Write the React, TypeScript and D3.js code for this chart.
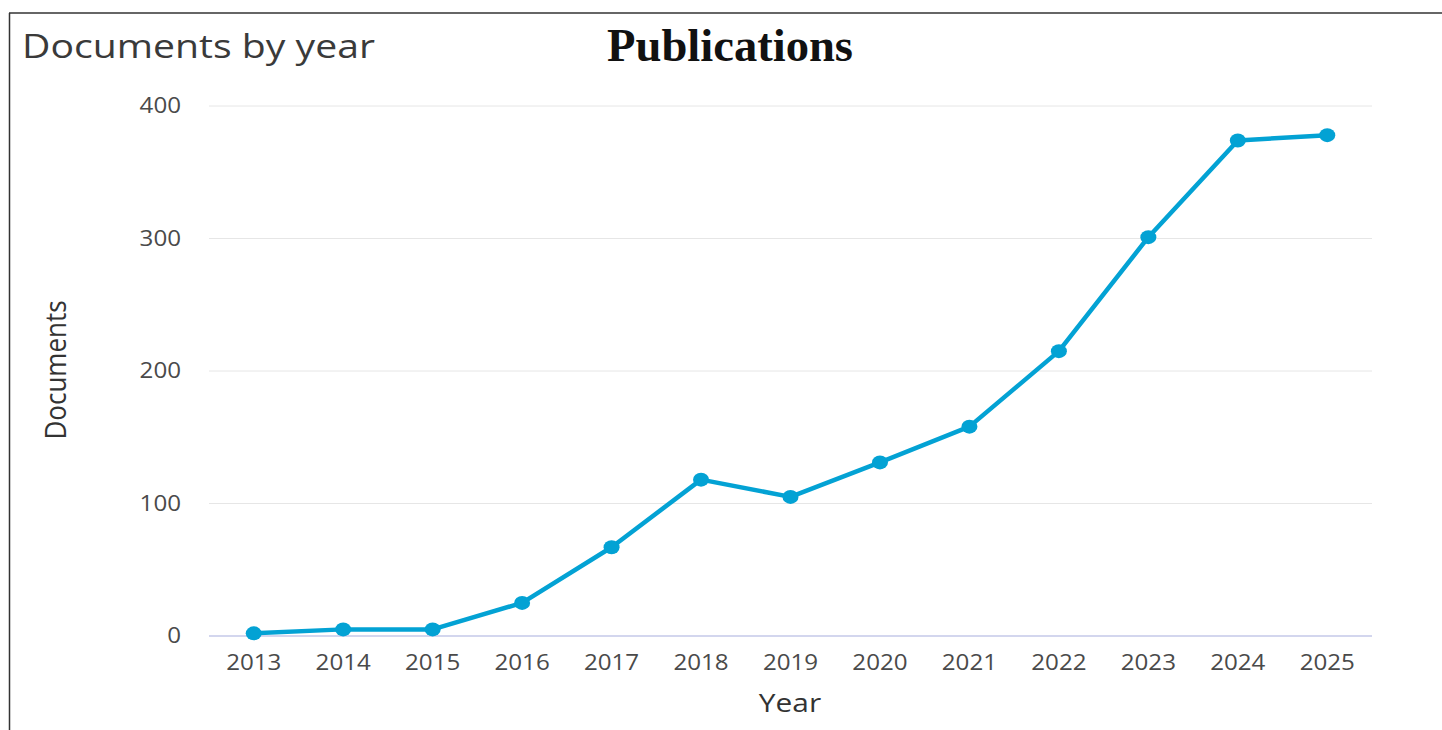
import React, { useRef, useEffect } from 'react';
import * as d3 from 'd3';

const years = ['2013', '2014', '2015', '2016', '2017', '2018', '2019', '2020', '2021', '2022', '2023', '2024', '2025'];
const documents = [2, 5, 5, 25, 67, 118, 105, 131, 158, 215, 301, 374, 378];
const yTicks = [0, 100, 200, 300, 400];

const W = 1442;
const H = 730;

const App: React.FC = () => {
  const svgRef = useRef<SVGSVGElement>(null);

  useEffect(() => {
    if (!svgRef.current) return;
    const svg = d3.select(svgRef.current);
    svg.selectAll('*').remove();

    const font = '"Open Sans", sans-serif';
    const stretch = 1.15;

    const x = d3.scalePoint<string>().domain(years).range([209, 1372]).padding(0.5);
    const y = d3.scaleLinear().domain([0, 400]).range([636, 106]);

    // frame
    svg.append('line').attr('x1', 9).attr('x2', W).attr('y1', 13).attr('y2', 13)
      .attr('stroke', '#333').attr('stroke-width', 1.5);
    svg.append('line').attr('x1', 9.5).attr('x2', 9.5).attr('y1', 13).attr('y2', H)
      .attr('stroke', '#333').attr('stroke-width', 1.5);

    // grid
    svg.selectAll('.grid')
      .data(yTicks)
      .enter()
      .append('line')
      .attr('x1', 209)
      .attr('x2', 1372)
      .attr('y1', d => y(d))
      .attr('y2', d => y(d))
      .attr('stroke', d => d === 0 ? '#d3d6ee' : '#e6e6e6')
      .attr('stroke-width', d => d === 0 ? 2 : 1);

    // y tick labels
    svg.selectAll('.ytick')
      .data(yTicks)
      .enter()
      .append('text')
      .attr('transform', d => `translate(181,${y(d) + 7}) scale(${stretch},1)`)
      .attr('text-anchor', 'end')
      .style('font-family', font)
      .style('font-size', '21px')
      .attr('fill', '#4a4a4a')
      .text(d => d);

    // x tick labels
    svg.selectAll('.xtick')
      .data(years)
      .enter()
      .append('text')
      .attr('transform', d => `translate(${x(d)},670) scale(${stretch},1)`)
      .attr('text-anchor', 'middle')
      .style('font-family', font)
      .style('font-size', '21px')
      .attr('fill', '#4a4a4a')
      .text(d => d);

    // line
    const line = d3.line<number>()
      .x((_, i) => x(years[i]) as number)
      .y(d => y(d));

    svg.append('path')
      .datum(documents)
      .attr('d', line)
      .attr('fill', 'none')
      .attr('stroke', '#03a2d4')
      .attr('stroke-width', 4.5)
      .attr('stroke-linejoin', 'round');

    svg.selectAll('.pt')
      .data(documents)
      .enter()
      .append('ellipse')
      .attr('cx', (_, i) => x(years[i]) as number)
      .attr('cy', d => y(d))
      .attr('rx', 8)
      .attr('ry', 7)
      .attr('fill', '#03a2d4');

    // axis titles
    svg.append('text')
      .attr('transform', `translate(790,712) scale(${stretch},1)`)
      .attr('text-anchor', 'middle')
      .style('font-family', font)
      .style('font-size', '26px')
      .attr('fill', '#333')
      .text('Year');

    svg.append('text')
      .attr('transform', `translate(66,370) scale(${stretch},1) rotate(-90)`)
      .attr('text-anchor', 'middle')
      .style('font-family', font)
      .style('font-size', '26px')
      .attr('fill', '#333')
      .text('Documents');

    // headers
    svg.append('text')
      .attr('x', 22)
      .attr('y', 58)
      .attr('textLength', 353)
      .attr('lengthAdjust', 'spacingAndGlyphs')
      .style('font-family', font)
      .style('font-size', '32px')
      .attr('fill', '#3a3a3a')
      .text('Documents by year');

    svg.append('text')
      .attr('x', 607)
      .attr('y', 61)
      .attr('textLength', 246)
      .attr('lengthAdjust', 'spacingAndGlyphs')
      .style('font-family', '"Liberation Serif", "Times New Roman", serif')
      .style('font-size', '46px')
      .style('font-weight', 'bold')
      .attr('fill', '#111')
      .text('Publications');
  }, []);

  return (
    <svg
      ref={svgRef}
      width={W}
      height={H}
      style={{ position: 'absolute', left: 0, top: 0, background: '#fff' }}
    />
  );
};

export default App;
